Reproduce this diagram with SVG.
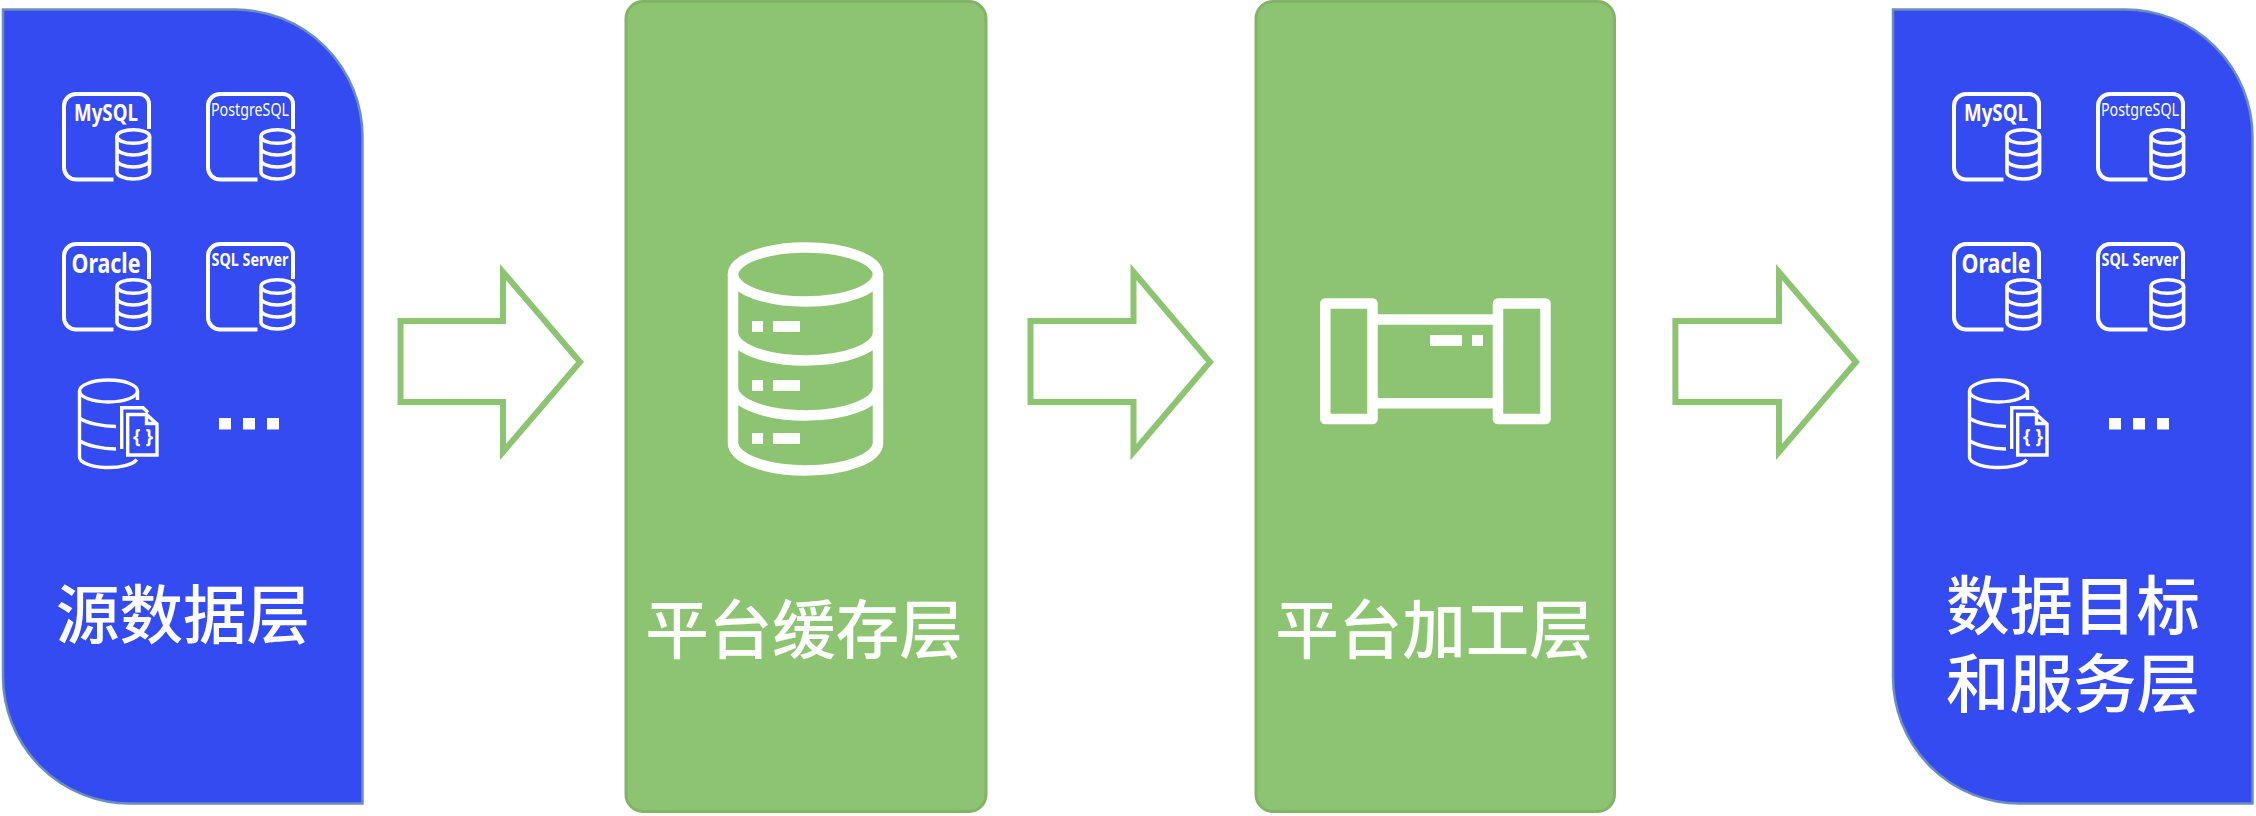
<svg xmlns="http://www.w3.org/2000/svg" xmlns:xlink="http://www.w3.org/1999/xlink" width="2256" height="816" viewBox="0 0 2256 816">
<style>
.blue{fill:#334bf0;stroke:#6c8ebf;stroke-width:2.500}
.green{fill:#8dc471;stroke:#82b366;stroke-width:3}
.arrow{fill:#fff;stroke:#8dc471;stroke-width:6;stroke-miterlimit:10}
.i{fill:none;stroke:#fff;stroke-width:4}
.big{fill:none;stroke:#fff;stroke-width:10.500;stroke-linejoin:round}
.w{fill:#fff;stroke:none}
.lab{font-family:"Noto Sans CJK SC","Noto Sans",sans-serif;font-size:63.500px;font-weight:500;fill:#fff;text-anchor:middle}
.db{font-family:"Noto Sans","Open Sans",sans-serif;fill:#fff;text-anchor:middle}
.b{font-weight:700}
</style>
<defs>
<g id="dbframe">
<path class="i" d="M149 129V104a10 10 0 0 0-10-10H76a12 12 0 0 0-12 12V167.500a12 12 0 0 0 12 12H113.500"/>
<g class="i" style="stroke-width:3.600">
<ellipse cx="133.300" cy="136.500" rx="16.300" ry="6.800"/>
<path d="M117 136.500V172M149.600 136.500V172M117 148A16.300 7 0 0 0 149.600 148M117 160A16.300 7 0 0 0 149.600 160M117 172A16.300 7 0 0 0 149.600 172"/>
</g>
</g>
<g id="dbfile" class="i" style="stroke-width:3.400">
<path d="M137.500 400V391M79.500 391V457A29 10.500 0 0 0 136.700 459.500"/>
<ellipse cx="108.500" cy="391" rx="29" ry="11"/>
<path d="M80 418.500C87 423 102 426.500 116 426.500M80 441C87 445.500 102 449 116 449"/>
<path d="M121.700 449V407.800H143L148 412.500"/>
<path d="M127.700 455V414.500H146.500L157 424V455ZM146.500 414.500V423.500H157"/>
</g>
<g id="dots" class="w"><rect x="219" y="418" width="12" height="11.500"/><rect x="243" y="418" width="12" height="11.500"/><rect x="267" y="418" width="12" height="11.500"/></g>
</defs>
<g id="connectors">
<path id="arrow-1" class="arrow" d="M400.500 321H503V272L580 362L503 452V402H400.500Z"/>
<path id="arrow-2" class="arrow" d="M1030.500 321H1133.500V272L1210 362L1133.500 452V402H1030.500Z"/>
<path id="arrow-3" class="arrow" d="M1675.400 321H1779V272L1856 362L1779 452V402H1675.400Z"/>
</g>
<g id="source-layer">
<path class="blue" d="M3 9.500H235A127.500 127.500 0 0 1 362.500 137V803.500H130A127 127 0 0 1 3 676.500Z"/>
<use xlink:href="#dbframe" href="#dbframe"/>
<use xlink:href="#dbframe" href="#dbframe" x="144"/>
<use xlink:href="#dbframe" href="#dbframe" y="150"/>
<use xlink:href="#dbframe" href="#dbframe" x="144" y="150"/>
<use xlink:href="#dbfile" href="#dbfile"/>
<use xlink:href="#dots" href="#dots"/>
<text class="db b" x="106" y="120.500" font-size="23" textLength="64" lengthAdjust="spacingAndGlyphs">MySQL</text>
<text class="db" x="250" y="116" font-size="17.500" textLength="78" lengthAdjust="spacingAndGlyphs">PostgreSQL</text>
<text class="db b" x="106" y="273" font-size="27" textLength="69" lengthAdjust="spacingAndGlyphs">Oracle</text>
<text class="db b" x="250" y="266" font-size="18.500" textLength="77" lengthAdjust="spacingAndGlyphs">SQL Server</text>
<text class="db b" x="143" y="442.500" font-size="20" textLength="20" lengthAdjust="spacingAndGlyphs">{ }</text>
<text class="lab" x="183" y="638">源数据层</text>
</g>
<g id="cache-layer">
<rect class="green" x="626" y="1.500" width="360" height="810" rx="17"/>
<g class="big">
<ellipse cx="805.500" cy="274.500" rx="72.500" ry="27"/>
<path d="M733 274.500V443M878 274.500V443M733 333A72.500 27.500 0 0 0 878 333M733 388A72.500 27.500 0 0 0 878 388M733 443A72.500 27.500 0 0 0 878 443"/>
</g>
<g class="w">
<rect x="752" y="321" width="11" height="11"/><rect x="773" y="321" width="27" height="11"/>
<rect x="752" y="380" width="11" height="11"/><rect x="773" y="380" width="27" height="11"/>
<rect x="752" y="433" width="11" height="11"/><rect x="773" y="433" width="27" height="11"/>
</g>
<text class="lab" x="804" y="653">平台缓存层</text>
</g>
<g id="process-layer">
<rect class="green" x="1256" y="1.500" width="358.500" height="810" rx="17"/>
<g class="big">
<rect x="1325.300" y="303.500" width="47.200" height="115.500"/>
<rect x="1498" y="303.500" width="47.500" height="115.500"/>
<path d="M1377 319.500H1493M1377 403.200H1493"/>
</g>
<g class="w"><rect x="1430" y="335" width="32" height="11"/><rect x="1472" y="335" width="11" height="11"/></g>
<text class="lab" x="1434" y="653">平台加工层</text>
</g>
<g id="target-layer">
<path class="blue" d="M1893 9.500H2125A127.500 127.500 0 0 1 2252.500 137V803.500H2020A127 127 0 0 1 1893 676.500Z"/>
<use xlink:href="#dbframe" href="#dbframe" x="1890"/>
<use xlink:href="#dbframe" href="#dbframe" x="2034"/>
<use xlink:href="#dbframe" href="#dbframe" x="1890" y="150"/>
<use xlink:href="#dbframe" href="#dbframe" x="2034" y="150"/>
<use xlink:href="#dbfile" href="#dbfile" x="1890"/>
<use xlink:href="#dots" href="#dots" x="1890"/>
<text class="db b" x="1996" y="120.500" font-size="23" textLength="64" lengthAdjust="spacingAndGlyphs">MySQL</text>
<text class="db" x="2140" y="116" font-size="17.500" textLength="78" lengthAdjust="spacingAndGlyphs">PostgreSQL</text>
<text class="db b" x="1996" y="273" font-size="27" textLength="69" lengthAdjust="spacingAndGlyphs">Oracle</text>
<text class="db b" x="2140" y="266" font-size="18.500" textLength="77" lengthAdjust="spacingAndGlyphs">SQL Server</text>
<text class="db b" x="2033" y="442.500" font-size="20" textLength="20" lengthAdjust="spacingAndGlyphs">{ }</text>
<text class="lab" x="2073" y="629">数据目标</text>
<text class="lab" x="2073" y="707">和服务层</text>
</g>
</svg>
